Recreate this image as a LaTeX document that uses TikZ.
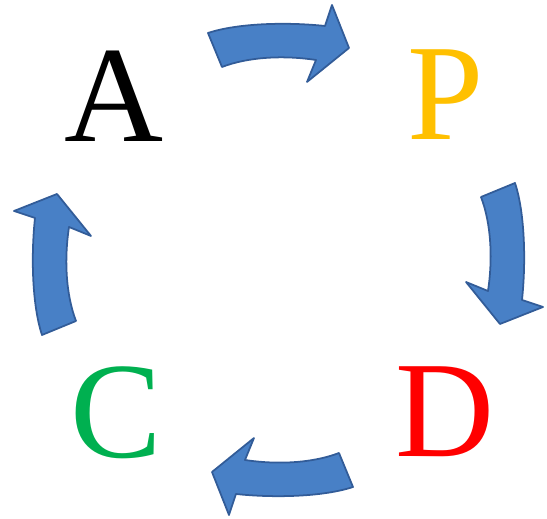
\documentclass[tikz,border=0pt]{standalone}
\usepackage{fontspec}
\setmainfont{Liberation Serif}
\usetikzlibrary{calc}
\definecolor{Ablue}{RGB}{72,128,198}
\definecolor{Adark}{RGB}{50,92,152}
\definecolor{Pgold}{RGB}{255,192,0}
\definecolor{Dred}{RGB}{255,0,0}
\definecolor{Cgreen}{RGB}{0,176,80}
\tikzset{
    letter/.style={font=\fontsize{39}{39}\selectfont, anchor=base, inner sep=0pt},
    blockarrow/.pic={
        \fill [Ablue, draw=Adark, line width=0.5pt, line join=round]
            (-70,-10) .. controls (-40,-20) and (10,-21) .. (47,-17)
            -- (54,-38) -- (71,5) -- (29,39) -- (38,17)
            .. controls (5,12) and (-30,14) .. (-56,24) -- cycle;
    },
}

\begin{document}
\begin{tikzpicture}[x=0.01cm, y=-0.01cm]

    \useasboundingbox (0,0) rectangle (547,519);

    % the four letters
    \node [letter, text=black]  (A) at (114,142) {A};
    \node [letter, text=Pgold]  (P) at (446,140) {P};
    \node [letter, text=Dred]   (D) at (445,457) {D};
    \node [letter, text=Cgreen] (C) at (116,458) {C};

    % arrow positions between the letters
    \coordinate (AP) at (278,43);
    \coordinate (PD) at (505,253);
    \coordinate (DC) at (283,477);
    \coordinate (CA) at (52,265);

    \pic at (AP) {blockarrow};
    \pic [rotate=-90] at (PD) {blockarrow};
    \pic [rotate=180] at (DC) {blockarrow};
    \pic [rotate=90] at (CA) {blockarrow};

\end{tikzpicture}
\end{document}
